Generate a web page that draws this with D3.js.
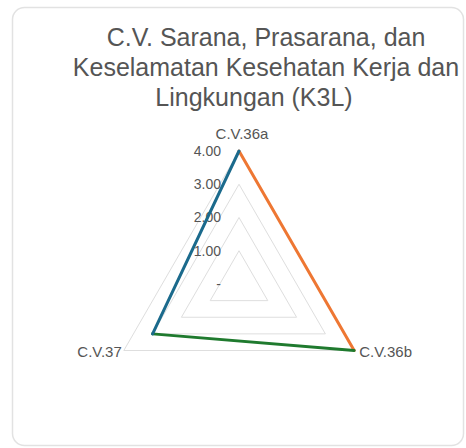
<!DOCTYPE html>
<html>
<head>
<meta charset="utf-8">
<script src="https://cdn.jsdelivr.net/npm/d3@7"></script>
<style>
  body { margin: 0; background: #fff; }
  text { font-family: "Liberation Sans", Arial, Helvetica, sans-serif; }
</style>
</head>
<body>
<div class="container"></div>
<script>
// chart data
var titleLines = ["C.V. Sarana, Prasarana, dan", "Keselamatan Kesehatan Kerja dan", "Lingkungan (K3L)"];
var axes = ["C.V.36a", "C.V.36b", "C.V.37"];
var values = [4, 4, 3];
var segmentColors = ["#ee7733", "#1f7a2e", "#1b6a8c"]; // 36a->36b, 36b->37, 37->36a
var tickValues = [0, 1, 2, 3, 4];
var tickLabels = ["-", "1.00", "2.00", "3.00", "4.00"];

var width = 466, height = 448;

const svg = d3.select(".container").append("svg")
  .attr("width", width)
  .attr("height", height);

// card
svg.append("rect")
  .attr("x", 12.5).attr("y", 7.5)
  .attr("width", 451).attr("height", 438)
  .attr("rx", 12).attr("ry", 12)
  .attr("fill", "#fff")
  .attr("stroke", "#e2e2e2")
  .attr("stroke-width", 1.5);

// title
svg.append("g")
  .selectAll("text")
  .data(titleLines)
  .join("text")
  .attr("x", (d, i) => i == 2 ? 254 : 266)
  .attr("y", (d, i) => 46 + i * 30)
  .attr("text-anchor", "middle")
  .attr("font-size", 25)
  .attr("fill", "#555")
  .text(d => d);

var cx = 239, cy = 284;
var r = d3.scaleLinear().domain([0, 4]).range([0, 133]);

function angle(i) { return -Math.PI / 2 + i * 2 * Math.PI / axes.length; }
function point(v, i) { return [cx + r(v) * Math.cos(angle(i)), cy + r(v) * Math.sin(angle(i))]; }

// grid triangles
svg.append("g")
  .selectAll("polygon")
  .data(tickValues.filter(t => t > 0))
  .join("polygon")
  .attr("points", t => axes.map((a, i) => point(t, i).join(",")).join(" "))
  .attr("fill", "none")
  .attr("stroke", "#dedede")
  .attr("stroke-width", 1);

// tick labels
svg.append("g")
  .selectAll("text")
  .data(tickValues)
  .join("text")
  .attr("x", 221)
  .attr("y", t => point(t, 0)[1])
  .attr("dy", "0.35em")
  .attr("text-anchor", "end")
  .attr("font-size", 14)
  .attr("fill", "#555")
  .text((t, i) => tickLabels[i]);

// series segments, one colour per point
var segs = axes.map((a, i) => [point(values[i], i), point(values[(i + 1) % axes.length], (i + 1) % axes.length)]);
svg.append("g")
  .selectAll("line")
  .data(segs)
  .join("line")
  .attr("x1", d => d[0][0]).attr("y1", d => d[0][1])
  .attr("x2", d => d[1][0]).attr("y2", d => d[1][1])
  .attr("stroke", (d, i) => segmentColors[i])
  .attr("stroke-width", 3)
  .attr("stroke-linecap", "round");

// axis labels
var labelPos = [
  { x: cx + 3, y: cy - r(4) - 17, anchor: "middle" },
  { x: point(4, 1)[0] + 5, y: point(4, 1)[1] + 1, anchor: "start" },
  { x: point(4, 2)[0] - 2, y: point(4, 2)[1] + 1, anchor: "end" }
];
svg.append("g")
  .selectAll("text")
  .data(axes)
  .join("text")
  .attr("x", (d, i) => labelPos[i].x)
  .attr("y", (d, i) => labelPos[i].y)
  .attr("dy", "0.35em")
  .attr("text-anchor", (d, i) => labelPos[i].anchor)
  .attr("font-size", 15)
  .attr("fill", "#555")
  .text(d => d);
</script>
</body>
</html>
